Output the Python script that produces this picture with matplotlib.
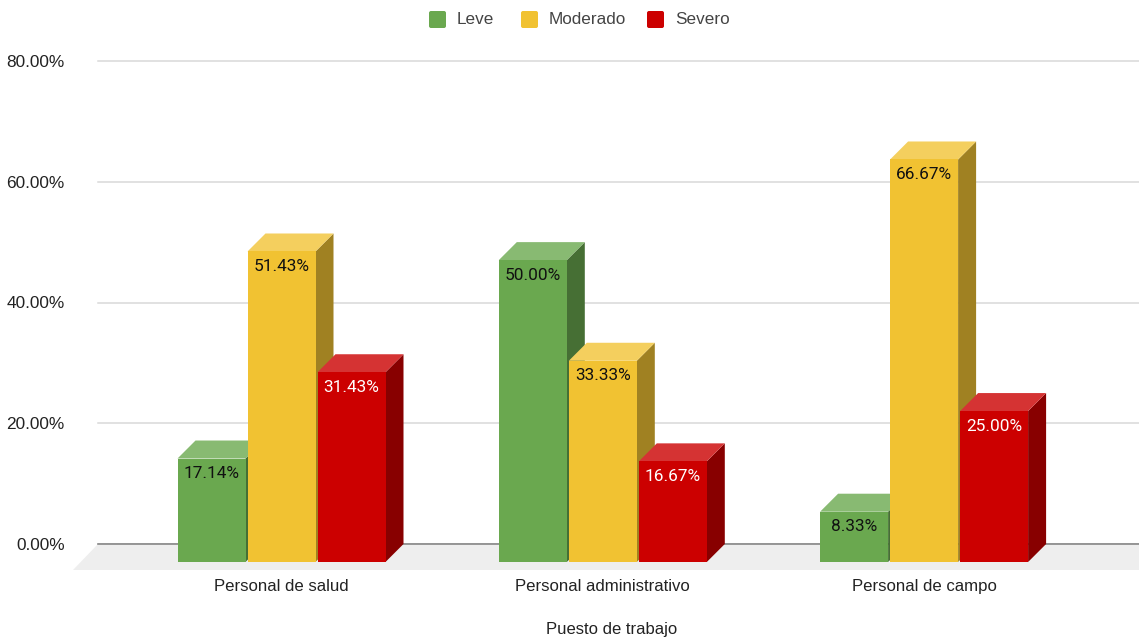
#!/usr/bin/env python3
import matplotlib
matplotlib.use("Agg")
import matplotlib.pyplot as plt
from matplotlib.patches import FancyBboxPatch, Polygon, Rectangle
from matplotlib.transforms import IdentityTransform

W, H = 1139, 639

categories = ["Personal de salud", "Personal administrativo", "Personal de campo"]
leve = [17.14, 50.00, 8.33]
moderado = [51.43, 33.33, 66.67]
severo = [31.43, 16.67, 25.00]
series_names = ["Leve", "Moderado", "Severo"]
y_ticks = [0, 20, 40, 60, 80]

# front, side and top colour of each series
FRONT = ["#6aa84f", "#f1c232", "#cc0000"]
SIDE = ["#466f34", "#a08122", "#880000"]
TOP = ["#88ba72", "#f4cf5e", "#d53333"]
LABEL = ["#111111", "#111111", "#ffffff"]

# pixel layout
AX_LEFT, AX_RIGHT, AX_TOP, AX_BOTTOM = 98, 1139, 61, 544
PX_X = 321.3      # pixels per category
PX_Y = (AX_BOTTOM - AX_TOP) / 80.0
FIRST = 281.5     # pixel centre of the first category (front face)
DX = 18 / PX_X    # depth offset
DY = 18 / PX_Y
BAR_W = 68 / PX_X
BAR_STEP = 70 / PX_X

plt.rcParams["font.family"] = ["Liberation Sans", "DejaVu Sans"]

fig = plt.figure(figsize=(W / 100, H / 100), dpi=100, facecolor="white")
ax = fig.add_axes([AX_LEFT / W, 1 - AX_BOTTOM / H,
                   (AX_RIGHT - AX_LEFT) / W, (AX_BOTTOM - AX_TOP) / H])
ax.set_xlim(-(FIRST - AX_LEFT) / PX_X, (AX_RIGHT - FIRST) / PX_X)
ax.set_ylim(0, 80)

for spine in ax.spines.values():
    spine.set_visible(False)

ax.set_yticks(y_ticks)
ax.set_yticklabels([f"{v:.2f}%" for v in y_ticks], fontsize=12.4, color="#222222")
ax.set_xticks(range(len(categories)))
ax.set_xticklabels(categories, fontsize=12.1, color="#222222", va="baseline")
ax.tick_params(axis="both", length=0)
ax.tick_params(axis="y", pad=24)
ax.tick_params(axis="x", pad=33.5)
ax.set_xlabel("Puesto de trabajo", fontsize=12, color="#222222", labelpad=20.6,
              x=(612 - AX_LEFT) / (AX_RIGHT - AX_LEFT))
ax.set_axisbelow(True)
ax.grid(axis="y", color="#d9d9d9", linewidth=1.1, clip_on=False)
ax.grid(axis="x", visible=False)

# floor of the 3D box
xmin, xmax = ax.get_xlim()
floor_dy = 26 / PX_Y
ax.add_patch(Polygon([(xmin - 25 / PX_X, -floor_dy), (xmin, 0), (xmax, 0), (xmax, -floor_dy)],
                     closed=True, facecolor="#eeeeee", edgecolor="none",
                     clip_on=False, zorder=1))
ax.plot([xmin, xmax], [0, 0], color="#7f7f7f", linewidth=1.1, clip_on=False, zorder=2)

all_series = [leve, moderado, severo]
for g in range(len(categories)):
    for s, values in enumerate(all_series):
        v = values[g]
        cx = g + (s - 1) * BAR_STEP
        x0, x1 = cx - BAR_W / 2, cx + BAR_W / 2
        z = 3 + g + s * 0.1
        ax.add_patch(Polygon([(x1, -DY), (x1 + DX, 0), (x1 + DX, v), (x1, v - DY)],
                             closed=True, facecolor=SIDE[s], edgecolor="none",
                             clip_on=False, zorder=z))
        ax.add_patch(Polygon([(x0, v - DY), (x1, v - DY), (x1 + DX, v), (x0 + DX, v)],
                             closed=True, facecolor=TOP[s], edgecolor="none",
                             clip_on=False, zorder=z))
        ax.add_patch(Rectangle((x0, -DY), BAR_W, v, facecolor=FRONT[s], edgecolor="none",
                               clip_on=False, zorder=z + 0.01))
        ax.annotate(f"{v:.2f}%", xy=(cx, v - DY), xytext=(0, -15 * 0.72),
                    textcoords="offset points", ha="center", va="center",
                    fontsize=12.4, family="Roboto", color=LABEL[s],
                    annotation_clip=False, zorder=z + 0.02)

# legend, placed by hand in pixels
legend_x = [429, 521, 647]
for name, px, color in zip(series_names, legend_x, FRONT):
    fig.add_artist(FancyBboxPatch((px, H - 28), 17, 17, boxstyle="round,pad=0,rounding_size=2",
                                  facecolor=color, edgecolor="none",
                                  transform=IdentityTransform()))
    fig.text((px + 28) / W, 1 - 19.5 / H, name, fontsize=12.3, color="#444444",
             ha="left", va="center")

fig.savefig("out.png", dpi=100)
